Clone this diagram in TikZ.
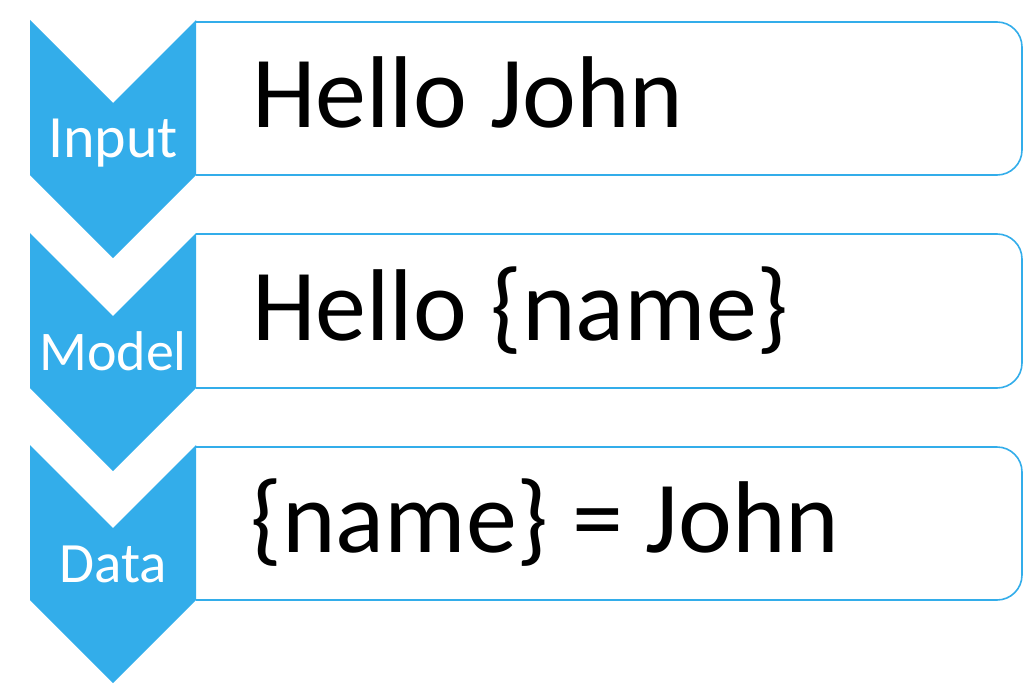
\documentclass[tikz,border=0pt]{standalone}
\usepackage{fontspec}
\setmainfont{Carlito}
\usepackage{xcolor}
\usepackage{tikz}
\definecolor{chev}{HTML}{33ADEA}
\definecolor{ink}{HTML}{000000}
\tikzset{
  chevron/.style={fill=chev, draw=none},
  card/.style={draw=chev, line width=1.6pt, line join=round, rounded corners=25pt},
  tag/.style={text=white, font=\fontsize{60}{60}\selectfont, inner sep=0pt, anchor=base},
  say/.style={text=ink, font=\fontsize{102}{102}\selectfont, inner sep=0pt, anchor=base west},
}

\begin{document}
\begin{tikzpicture}[x=1pt,y=-1pt]
  \useasboundingbox (0,0) rectangle (1024,685);
  % right hand cards, open on the left
  \draw[card] (196,22) -- (1022,22) -- (1022,175) -- (196,175);
  \draw[card] (196,234) -- (1022,234) -- (1022,388) -- (196,388);
  \draw[card] (196,447) -- (1022,447) -- (1022,600) -- (196,600);
  % chevrons pointing down
  \fill[chevron] (30,20) -- (113,103) -- (196,20) -- (196,175) -- (113,258) -- (30,175) -- cycle;
  \fill[chevron] (30,233) -- (113,316) -- (196,233) -- (196,388) -- (113,471) -- (30,388) -- cycle;
  \fill[chevron] (30,445) -- (113,528) -- (196,445) -- (196,600) -- (113,683) -- (30,600) -- cycle;
  \node[tag] (input) at (113,157) {Input};
  \node[tag, font=\fontsize{56}{56}\selectfont] (model) at (113,370) {Model};
  \node[tag, font=\fontsize{57}{57}\selectfont] (data) at (113,582) {Data};
  \node[say] (hello) at (252,127) {Hello John};
  \node[say] (tmpl) at (252,340) {Hello \{name\}};
  \node[say] (bind) at (250,552) {\{name\} = John};
\end{tikzpicture}
\end{document}
